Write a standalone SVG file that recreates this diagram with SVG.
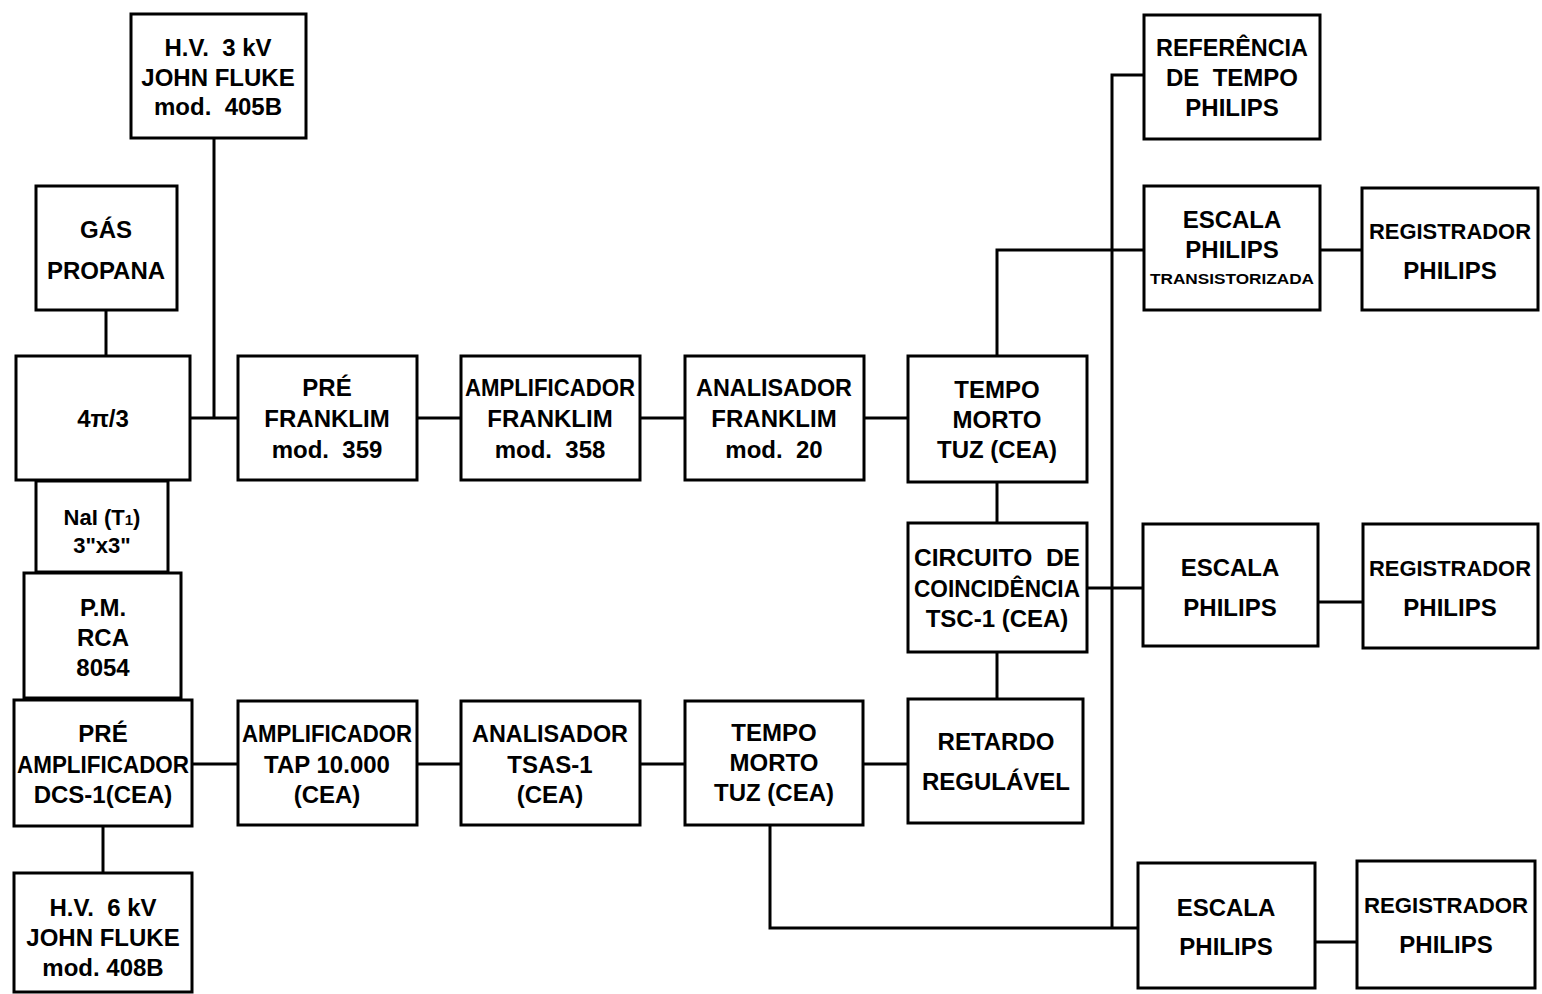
<svg xmlns="http://www.w3.org/2000/svg" width="1542" height="994" viewBox="0 0 1542 994">
<style>
.b{fill:#fff;stroke:#000;stroke-width:3}
.c{fill:none;stroke:#000;stroke-width:3}
text{font-family:"Liberation Sans",Arial,sans-serif;font-weight:bold;font-size:24px;text-anchor:middle;fill:#000}
.s{font-size:14px}
.n{font-size:22px}
.r{font-size:22px}
</style>
<rect width="1542" height="994" fill="#fff"/>
<g id="connectors">
<path class="c" d="M214,138 V418"/>
<path class="c" d="M190,418 H238"/>
<path class="c" d="M106,310 V356"/>
<path class="c" d="M417,418 H461"/>
<path class="c" d="M640,418 H685"/>
<path class="c" d="M864,418 H908"/>
<path class="c" d="M997,356 V250 H1144"/>
<path class="c" d="M997,482 V523"/>
<path class="c" d="M997,652 V699"/>
<path class="c" d="M1112,928 V75 H1144"/>
<path class="c" d="M1087,588 H1143"/>
<path class="c" d="M1320,250 H1362"/>
<path class="c" d="M1318,602 H1363"/>
<path class="c" d="M770,825 V928 H1138"/>
<path class="c" d="M1315,942 H1357"/>
<path class="c" d="M192,764 H238"/>
<path class="c" d="M417,764 H461"/>
<path class="c" d="M640,764 H685"/>
<path class="c" d="M863,764 H908"/>
<path class="c" d="M103,826 V873"/>
</g>
<g id="hv3"><rect class="b" x="131" y="14" width="175" height="124"/><text x="218" y="56">H.V.&#160; 3 kV</text><text x="218" y="86">JOHN FLUKE</text><text x="218" y="115">mod.&#160; 405B</text></g>
<g id="gas"><rect class="b" x="36" y="186" width="141" height="124"/><text x="106" y="238">GÁS</text><text x="106" y="279">PROPANA</text></g>
<g id="pi"><rect class="b" x="16" y="356" width="174" height="124"/><text x="103" y="427">4π/3</text></g>
<g id="nai"><rect class="b" x="36" y="481" width="132" height="91"/><text class="n" x="102" y="525">NaI (T<tspan font-size="15">1</tspan>)</text><text class="n" x="102" y="553">3"x3"</text></g>
<g id="pm"><rect class="b" x="24" y="573" width="157" height="125"/><text x="103" y="616">P.M.</text><text x="103" y="646">RCA</text><text x="103" y="676">8054</text></g>
<g id="preamp"><rect class="b" x="14" y="700" width="178" height="126"/><text x="103" y="742">PRÉ</text><text x="103" y="773" textLength="172" lengthAdjust="spacingAndGlyphs">AMPLIFICADOR</text><text x="103" y="803">DCS-1(CEA)</text></g>
<g id="hv6"><rect class="b" x="14" y="873" width="178" height="119"/><text x="103" y="916">H.V.&#160; 6 kV</text><text x="103" y="946">JOHN FLUKE</text><text x="103" y="976">mod. 408B</text></g>
<g id="prefr"><rect class="b" x="238" y="356" width="179" height="124"/><text x="327" y="396">PRÉ</text><text x="327" y="427">FRANKLIM</text><text x="327" y="458">mod.&#160; 359</text></g>
<g id="ampfr"><rect class="b" x="461" y="356" width="179" height="124"/><text x="550" y="396" textLength="170" lengthAdjust="spacingAndGlyphs">AMPLIFICADOR</text><text x="550" y="427">FRANKLIM</text><text x="550" y="458">mod.&#160; 358</text></g>
<g id="analfr"><rect class="b" x="685" y="356" width="179" height="124"/><text x="774" y="396" textLength="156" lengthAdjust="spacingAndGlyphs">ANALISADOR</text><text x="774" y="427">FRANKLIM</text><text x="774" y="458">mod.&#160; 20</text></g>
<g id="tempo1"><rect class="b" x="908" y="356" width="179" height="126"/><text x="997" y="398">TEMPO</text><text x="997" y="428">MORTO</text><text x="997" y="458">TUZ (CEA)</text></g>
<g id="circ"><rect class="b" x="908" y="523" width="179" height="129"/><text x="997" y="566" textLength="166" lengthAdjust="spacingAndGlyphs">CIRCUITO&#160; DE</text><text x="997" y="597" textLength="166" lengthAdjust="spacingAndGlyphs">COINCIDÊNCIA</text><text x="997" y="627">TSC-1 (CEA)</text></g>
<g id="retardo"><rect class="b" x="908" y="699" width="175" height="124"/><text x="996" y="750">RETARDO</text><text x="996" y="790">REGULÁVEL</text></g>
<g id="tempo2"><rect class="b" x="685" y="701" width="178" height="124"/><text x="774" y="741">TEMPO</text><text x="774" y="771">MORTO</text><text x="774" y="801">TUZ (CEA)</text></g>
<g id="tsas"><rect class="b" x="461" y="701" width="179" height="124"/><text x="550" y="742" textLength="156" lengthAdjust="spacingAndGlyphs">ANALISADOR</text><text x="550" y="773">TSAS-1</text><text x="550" y="803">(CEA)</text></g>
<g id="tap"><rect class="b" x="238" y="701" width="179" height="124"/><text x="327" y="742" textLength="170" lengthAdjust="spacingAndGlyphs">AMPLIFICADOR</text><text x="327" y="773">TAP 10.000</text><text x="327" y="803">(CEA)</text></g>
<g id="ref"><rect class="b" x="1144" y="15" width="176" height="124"/><text x="1232" y="56" textLength="152" lengthAdjust="spacingAndGlyphs">REFERÊNCIA</text><text x="1232" y="86">DE&#160; TEMPO</text><text x="1232" y="116">PHILIPS</text></g>
<g id="esc1"><rect class="b" x="1144" y="186" width="176" height="124"/><text x="1232" y="228">ESCALA</text><text x="1232" y="258">PHILIPS</text><text class="s" x="1232" y="284" textLength="164" lengthAdjust="spacingAndGlyphs">TRANSISTORIZADA</text></g>
<g id="reg1"><rect class="b" x="1362" y="188" width="176" height="122"/><text class="r" x="1450" y="239" textLength="162" lengthAdjust="spacingAndGlyphs">REGISTRADOR</text><text x="1450" y="279">PHILIPS</text></g>
<g id="esc2"><rect class="b" x="1143" y="524" width="175" height="122"/><text x="1230" y="576">ESCALA</text><text x="1230" y="616">PHILIPS</text></g>
<g id="reg2"><rect class="b" x="1363" y="524" width="175" height="124"/><text class="r" x="1450" y="576" textLength="162" lengthAdjust="spacingAndGlyphs">REGISTRADOR</text><text x="1450" y="616">PHILIPS</text></g>
<g id="esc3"><rect class="b" x="1138" y="863" width="177" height="125"/><text x="1226" y="916">ESCALA</text><text x="1226" y="955">PHILIPS</text></g>
<g id="reg3"><rect class="b" x="1357" y="861" width="178" height="127"/><text class="r" x="1446" y="913" textLength="164" lengthAdjust="spacingAndGlyphs">REGISTRADOR</text><text x="1446" y="953">PHILIPS</text></g>
</svg>
